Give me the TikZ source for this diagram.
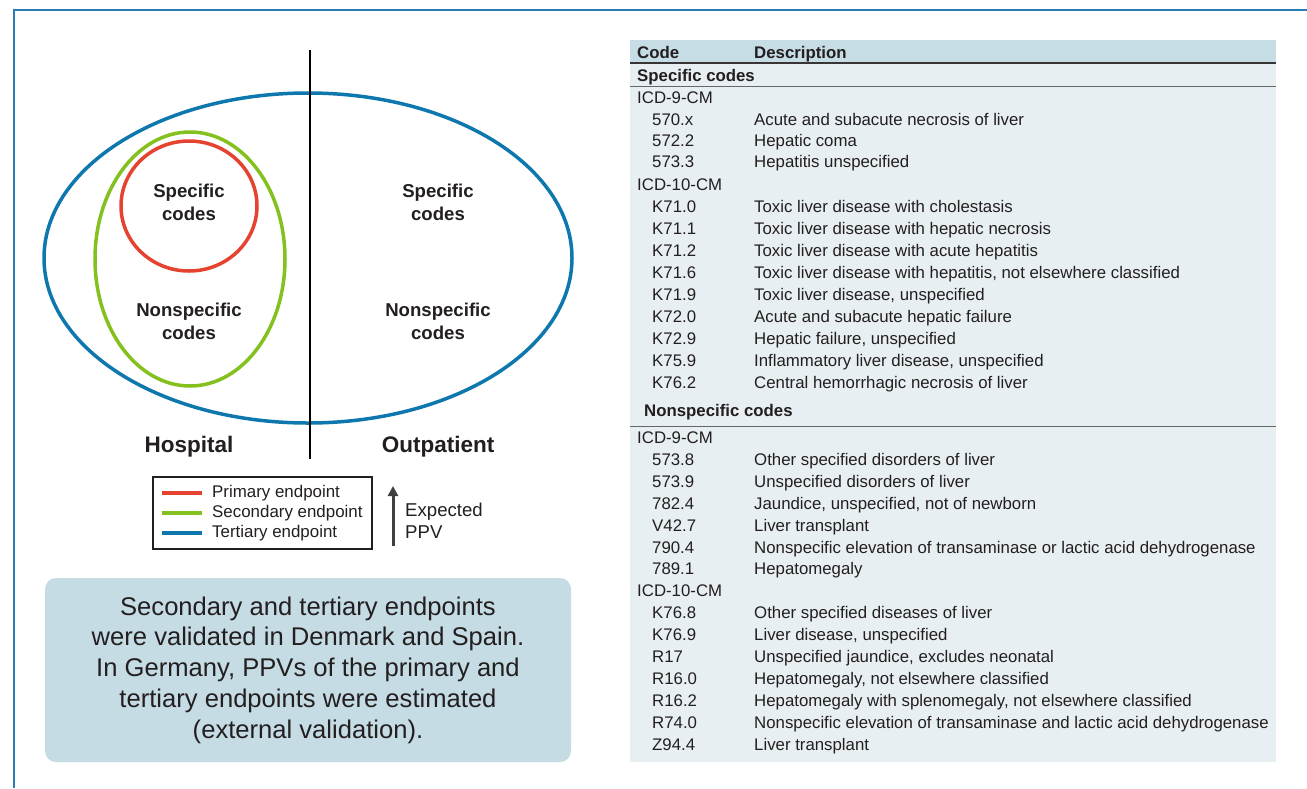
\documentclass[tikz,border=0pt]{standalone}
\usepackage{fontspec}
\setmainfont{Liberation Sans}
\usetikzlibrary{arrows.meta}
\definecolor{frameblue}{HTML}{2A7DB4}
\definecolor{tertblue}{HTML}{0E78AE}
\definecolor{secgreen}{HTML}{84C11F}
\definecolor{primred}{HTML}{E5422F}
\definecolor{boxfill}{HTML}{C5DCE4}
\definecolor{headfill}{HTML}{C6DDE5}
\definecolor{bodyfill}{HTML}{E8EFF2}
\definecolor{ink}{HTML}{231F20}
\definecolor{arrowgray}{HTML}{404040}
\begin{document}
\begin{tikzpicture}[x=1pt,y=-1pt,
  tab/.style={anchor=base west,inner sep=0pt,text=ink,font=\fontsize{16.8}{20}\selectfont},
  tabb/.style={tab,font=\bfseries\fontsize{16.8}{20}\selectfont},
  venn/.style={align=center,text=ink,inner sep=0pt,font=\bfseries\fontsize{18.6}{23}\selectfont},
  place/.style={anchor=base,text=ink,inner sep=0pt,font=\bfseries\fontsize{22.5}{26}\selectfont},
  legtext/.style={anchor=west,text=ink,inner sep=0pt,font=\fontsize{16.9}{22}\selectfont},
  legline/.style={line width=4pt}
]
\useasboundingbox (0,0) rectangle (1307,788);
\fill[white] (0,0) rectangle (1307,788);
% frame
\draw[frameblue,line width=2pt] (1307,10) -- (14,10) -- (14,788);

% Venn part
\draw[tertblue,line width=3.5pt] (308,258) ellipse [x radius=264pt,y radius=165pt];
\draw[secgreen,line width=3.5pt] (190,259) ellipse [x radius=95pt,y radius=127pt];
\draw[primred,line width=3.5pt] (189,206) ellipse [x radius=68pt,y radius=65pt];
\coordinate (vtop) at (310,50);
\coordinate (vbot) at (310,459);
\draw[black,line width=1.8pt] (vtop) -- (vbot);

\node[venn] (hs) at (189,202) {Specific\\codes};
\node[venn] (hn) at (189,321) {Nonspecific\\codes};
\node[venn] (os) at (438,202) {Specific\\codes};
\node[venn] (on) at (438,321) {Nonspecific\\codes};
\node[place] (hosp) at (189,452) {Hospital};
\node[place] (outp) at (438,452) {Outpatient};

% legend
\node[draw=ink,line width=1.5pt,minimum width=219pt,minimum height=72pt,inner sep=0pt] (leg) at (262.5,513) {};
\coordinate (l1a) at (162,493); \coordinate (l1b) at (202,493);
\coordinate (l2a) at (162,513); \coordinate (l2b) at (202,513);
\coordinate (l3a) at (162,533); \coordinate (l3b) at (202,533);
\draw[legline,primred] (l1a) -- (l1b);
\draw[legline,secgreen] (l2a) -- (l2b);
\draw[legline,tertblue] (l3a) -- (l3b);
\node[legtext] (lt1) at (212,493) {Primary endpoint};
\node[legtext] (lt2) at (212,513) {Secondary endpoint};
\node[legtext] (lt3) at (212,533) {Tertiary endpoint};

\coordinate (ppvb) at (393,546);
\coordinate (ppvt) at (393,486);
\draw[arrowgray,line width=3pt,-{Triangle[width=10pt,length=10pt]}] (ppvb) -- (ppvt);
\node[legtext,align=left,font=\fontsize{18.6}{22}\selectfont] (ppv) at (405,521) {Expected\\PPV};

% note box
\node[fill=boxfill,rounded corners=11pt,minimum width=526pt,minimum height=184pt,inner sep=0pt] (notebox) at (308,670) {};
\node[align=center,text=ink,inner sep=0pt,font=\fontsize{25.6}{30.7}\selectfont] (note) at (308,670)
 {Secondary and tertiary endpoints\\were validated in Denmark and Spain.\\In Germany, PPVs of the primary and\\tertiary endpoints were estimated\\(external validation).};

% table
\fill[bodyfill] (630,63) rectangle (1276,762);
\fill[headfill] (630,40) rectangle (1276,63);
\draw[ink!90,line width=1.6pt] (630,63) -- (1276,63);
\draw[gray!80!black,line width=1pt] (630,86.5) -- (1276,86.5);
\draw[gray!80!black,line width=1pt] (630,426.5) -- (1276,426.5);

\node[tabb] (hcode) at (637,58) {Code};
\node[tabb] (hdesc) at (754,58) {Description};
\node[tabb] (spec) at (637,81) {Specific codes};
\node[tab] (icd9a) at (637,103) {ICD-9-CM};
\node[tab] (icd10a) at (637,190) {ICD-10-CM};
\node[tabb] (nspec) at (644,416) {Nonspecific codes};
\node[tab] (icd9b) at (637,443) {ICD-9-CM};
\node[tab] (icd10b) at (637,596) {ICD-10-CM};

\foreach \c/\d/\y [count=\i] in {
  {570.x}/{Acute and subacute necrosis of liver}/119,
  {572.2}/{Hepatic coma}/140,
  {573.3}/{Hepatitis unspecified}/161,
  {K71.0}/{Toxic liver disease with cholestasis}/206,
  {K71.1}/{Toxic liver disease with hepatic necrosis}/228,
  {K71.2}/{Toxic liver disease with acute hepatitis}/250,
  {K71.6}/{Toxic liver disease with hepatitis, not elsewhere classified}/272,
  {K71.9}/{Toxic liver disease, unspecified}/294,
  {K72.0}/{Acute and subacute hepatic failure}/316,
  {K72.9}/{Hepatic failure, unspecified}/338,
  {K75.9}/{Inflammatory liver disease, unspecified}/360,
  {K76.2}/{Central hemorrhagic necrosis of liver}/382,
  {573.8}/{Other specified disorders of liver}/459,
  {573.9}/{Unspecified disorders of liver}/481,
  {782.4}/{Jaundice, unspecified, not of newborn}/503,
  {V42.7}/{Liver transplant}/525,
  {790.4}/{Nonspecific elevation of transaminase or lactic acid dehydrogenase}/547,
  {789.1}/{Hepatomegaly}/568,
  {K76.8}/{Other specified diseases of liver}/612,
  {K76.9}/{Liver disease, unspecified}/634,
  {R17}/{Unspecified jaundice, excludes neonatal}/656,
  {R16.0}/{Hepatomegaly, not elsewhere classified}/678,
  {R16.2}/{Hepatomegaly with splenomegaly, not elsewhere classified}/700,
  {R74.0}/{Nonspecific elevation of transaminase and lactic acid dehydrogenase}/722,
  {Z94.4}/{Liver transplant}/744}
{
  \node[tab] (c\i) at (652,\y+6) {\c};
  \node[tab] (d\i) at (754,\y+6) {\d};
}
\end{tikzpicture}
\end{document}
